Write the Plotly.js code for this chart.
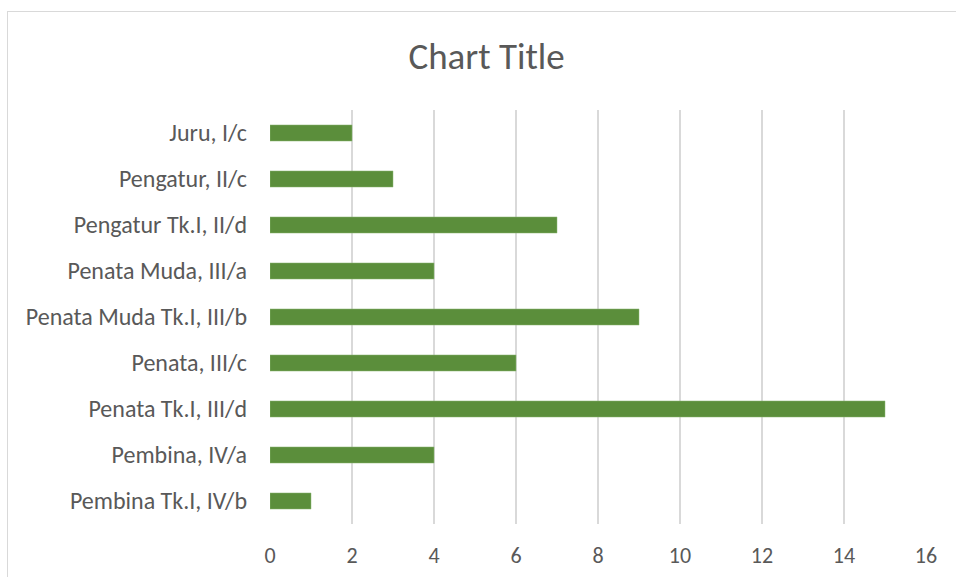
<!DOCTYPE html>
<html>
<head>
<meta charset="utf-8">
<script src="https://cdn.plot.ly/plotly-3.0.1.min.js"></script>
<style>
html,body{margin:0;padding:0;background:#fff;}
#wrap{position:relative;width:956px;height:577px;overflow:hidden;}
#chart{width:956px;height:577px;}
#frame{position:absolute;left:7px;top:11px;width:1000px;height:1000px;border:1px solid #d9d9d9;pointer-events:none;}
</style>
</head>
<body>
<div id="wrap"><div id="chart"></div><div id="frame"></div></div>
<script>
const categories = ["Juru, I/c","Pengatur, II/c","Pengatur Tk.I, II/d","Penata Muda, III/a","Penata Muda Tk.I, III/b","Penata, III/c","Penata Tk.I, III/d","Pembina, IV/a","Pembina Tk.I, IV/b"];
const values = [2,3,7,4,9,6,15,4,1];
const xTicks = [0,2,4,6,8,10,12,14,16];

const font = "Carlito, Calibri, 'Open Sans', sans-serif";
Plotly.newPlot('chart', [{
  type:'bar', orientation:'h', x: values, y: categories,
  marker:{color:'#5B8E3B', line:{color:'#8fb877', width:0.5}},
  hoverinfo:'none'
}], {
  width:956, height:577,
  margin:{l:270, r:30, t:110, b:53},
  paper_bgcolor:'#fff', plot_bgcolor:'#fff',
  title:{text:'Chart Title', x:0.509, xanchor:'center', y:0.903, yanchor:'middle', font:{family:font, size:37, color:'#595959'}},
  bargap:0.65,
  showlegend:false,
  xaxis:{range:[0,16], tickvals:xTicks, ticktext:xTicks.map(String), showgrid:true, gridcolor:'#d9d9d9', gridwidth:1.5, zeroline:false, showline:false,
    tickfont:{family:font, size:22, color:'#595959'}, ticks:'', ticklabelstandoff:16},
  yaxis:{autorange:'reversed', showgrid:false, zeroline:false, showline:false, ticks:'',
    tickfont:{family:font, size:24, color:'#595959'}, ticklabelstandoff:22}
}, {displayModeBar:false, staticPlot:true});
</script>
</body>
</html>
